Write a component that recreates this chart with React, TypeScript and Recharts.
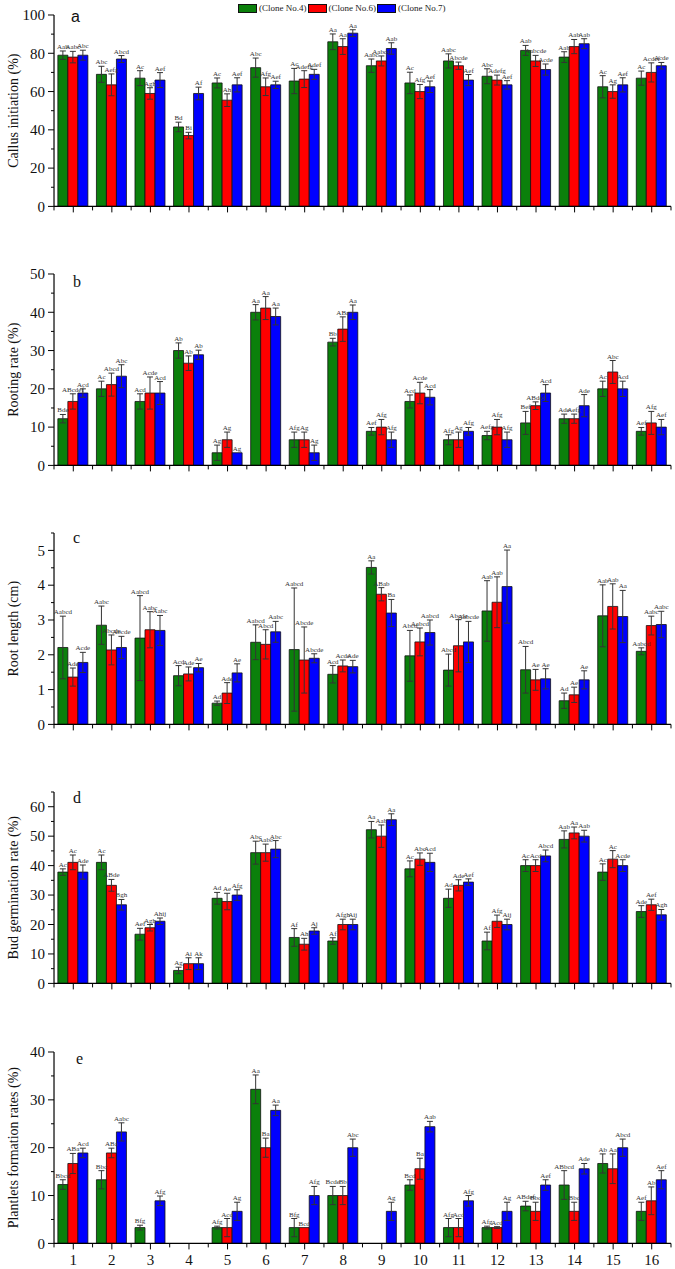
import React from "react";
import { BarChart, Bar, XAxis, YAxis, ErrorBar, LabelList } from "recharts";

const groups = ["1", "2", "3", "4", "5", "6", "7", "8", "9", "10", "11", "12", "13", "14", "15", "16"];
const cloneNames = ["(Clone No.4)", "(Clone No.6)", "(Clone No.7)"];
const cloneColors = ["#0b800b", "#ff0000", "#0000ff"];

// a - callus initiation (%)
const callus4 = [79, 69, 67, 41.5, 64.5, 72.5, 65.5, 86, 73.5, 64.5, 76, 68, 81.5, 78, 62.5, 67];
const callus6 = [78, 63.5, 59, 37, 55.5, 62.5, 66.5, 83.5, 76, 60, 73.5, 66, 76, 83.5, 60, 70];
const callus7 = [79, 77, 66, 59, 63.5, 63.5, 69, 90.5, 82.5, 62.5, 66, 63.5, 71.5, 85, 63.5, 73.5];
const callusErr4 = [2.2, 4.2, 3.9, 2.5, 2.6, 5, 6.6, 4.1, 3.5, 5.6, 3.7, 3.9, 2.6, 2.8, 5.8, 3.7];
const callusErr6 = [3, 5.7, 3, 1.7, 3.3, 4.6, 4.4, 4.1, 2.6, 3.7, 1.9, 2.6, 2.9, 3.7, 3.5, 5];
const callusErr7 = [2.6, 1.8, 3.9, 3.3, 3.7, 1.9, 2.6, 1.8, 3, 3, 2.9, 2.2, 2.9, 2.6, 3.7, 1.7];
const callusLab4 = ["Aab", "Abc", "Ac", "Bd", "Ac", "Abc", "Ac", "Aa", "Aabc", "Ac", "Aabc", "Abc", "Aab", "Aab", "Ac", "Ac"];
const callusLab6 = ["Aabc", "Aefg", "Agh", "Bi", "Ah", "Afg", "Adefg", "Aa", "Aabcd", "Afg", "Abcde", "Adefg", "Aabcde", "Aab", "Ag", "Acdef"];
const callusLab7 = ["Abc", "Abcd", "Aef", "Af", "Aef", "Aef", "Adef", "Aa", "Aab", "Aef", "Aef", "Aef", "Acde", "Aab", "Aef", "Acde"];
const callusTicks = [0, 10, 20, 30, 40, 50, 60, 70, 80, 90, 100];

// b - rooting rate (%)
const root4 = [12.2, 20, 16.7, 30, 3.3, 40, 6.7, 32.2, 8.9, 16.7, 6.7, 7.8, 11.1, 12.2, 20, 8.9];
const root6 = [16.7, 21.1, 18.9, 26.7, 6.7, 41.1, 6.7, 35.6, 10, 18.9, 6.7, 10, 15.6, 12.2, 24.4, 11.1];
const root7 = [18.9, 23.3, 18.9, 28.9, 3.3, 38.9, 3.3, 40, 6.7, 17.8, 8.9, 6.7, 18.9, 15.6, 20, 10];
const rootErr4 = [1.1, 2, 2, 2, 2, 2, 2, 1, 1, 1.7, 1.3, 1.1, 3, 1.2, 2, 1];
const rootErr6 = [2, 3, 4.2, 1.9, 2, 3, 2, 3.2, 2, 2.8, 2, 2, 1, 1.2, 3, 3];
const rootErr7 = [1.1, 3, 3, 1.2, 0, 2.2, 2, 1.9, 2, 2, 1, 2, 2.2, 2.9, 2, 2];
const rootLab4 = ["Bde", "Ac", "Acd", "Ab", "Ag", "Aa", "Afg", "Bb", "Aef", "Acd", "Afg", "Aefg", "Bef", "Ade", "Ac", "Aef"];
const rootLab6 = ["ABcdef", "Abcd", "Acde", "Ab", "Ag", "Aa", "Ag", "ABa", "Afg", "Acde", "Ag", "Afg", "ABdef", "Aefg", "Abc", "Afg"];
const rootLab7 = ["Acd", "Abc", "Acd", "Ab", "Ag", "Aa", "Ag", "Aa", "Afg", "Acd", "Afg", "Afg", "Acd", "Ade", "Acd", "Aef"];
const rootTicks = [0, 5, 10, 15, 20, 25, 30, 35, 40, 45, 50];

// c - root length (cm)
const len4 = [2.21, 2.85, 2.48, 1.4, 0.61, 2.36, 2.15, 1.44, 4.51, 1.97, 1.56, 3.26, 1.57, 0.68, 3.12, 2.1];
const len6 = [1.36, 2.14, 2.72, 1.45, 0.9, 2.3, 1.85, 1.68, 3.74, 2.37, 2.26, 3.51, 1.28, 0.85, 3.39, 2.84];
const len7 = [1.78, 2.21, 2.7, 1.63, 1.48, 2.66, 1.9, 1.66, 3.2, 2.64, 2.37, 3.96, 1.31, 1.28, 3.1, 2.87];
const lenErr4 = [0.9, 0.55, 1.22, 0.29, 0.06, 0.5, 1.77, 0.25, 0.19, 0.73, 0.46, 0.87, 0.67, 0.22, 0.89, 0.1];
const lenErr6 = [0.26, 0.43, 0.52, 0.2, 0.3, 0.42, 0.95, 0.17, 0.19, 0.4, 0.75, 0.73, 0.3, 0.22, 0.65, 0.27];
const lenErr7 = [0.29, 0.32, 0.43, 0.12, 0.26, 0.3, 0.13, 0.18, 0.39, 0.36, 0.59, 1.05, 0.29, 0.26, 0.75, 0.38];
const lenLab4 = ["Aabcd", "Aabc", "Aabcd", "Acd", "Ad", "Aabcd", "Aabcd", "Acd", "Aa", "Abcd", "Abcd", "Aab", "Abcd", "Ad", "Aab", "Aabcd"];
const lenLab6 = ["Ade", "Abcde", "Aabc", "Ade", "Ade", "Abcd", "Abcde", "Acde", "ABab", "Aabcd", "Abcde", "Aab", "Ae", "Ae", "Aab", "Aabc"];
const lenLab7 = ["Acde", "Abcde", "Aabc", "Ae", "Ae", "Aabc", "Abcde", "Ade", "Ba", "Aabcd", "Aabcde", "Aa", "Ae", "Ae", "Aa", "Aabc"];
const lenTicks = [0, 0.5, 1, 1.5, 2, 2.5, 3, 3.5, 4, 4.5, 5, 5.5];

// d - bud germination rate (%)
const bud4 = [37.8, 41.1, 16.7, 4.4, 28.9, 44.4, 15.6, 14.4, 52.2, 38.9, 28.9, 14.4, 40, 48.9, 37.8, 24.4];
const bud6 = [41.1, 33.3, 18.9, 6.7, 27.8, 44.4, 13.3, 20, 50, 42.2, 33.3, 21.1, 40, 51.1, 42.2, 26.7];
const bud7 = [37.8, 26.7, 21.1, 6.7, 30, 45.6, 17.8, 20, 55.6, 41.1, 34.4, 20, 43.3, 50, 40, 23.3];
const budErr4 = [1.1, 2.5, 2, 1.1, 2, 3.9, 3, 1.1, 2.8, 2.7, 3.1, 3, 2, 2.9, 2.8, 2];
const budErr6 = [2.5, 2, 1.1, 2, 2.8, 2.9, 2, 1.8, 3.8, 2.1, 1.9, 2.1, 2, 2, 2.9, 1.9];
const budErr7 = [2.4, 1.8, 1.1, 2, 1.8, 2.9, 1.1, 1.8, 2, 3.1, 1.1, 1.8, 2, 2, 2, 1.8];
const budLab4 = ["Ac", "Ac", "Aef", "Ag", "Ad", "Abc", "Af", "Af", "Aa", "Ac", "Ad", "Af", "Ac", "Aab", "Ac", "Ade"];
const budLab6 = ["Ac", "ABde", "Agh", "Ai", "Ae", "Aabc", "Ah", "Afgh", "Aab", "Abc", "Ade", "Afg", "Acd", "Aa", "Ac", "Aef"];
const budLab7 = ["Ade", "Bgh", "Ahij", "Ak", "Afg", "Abc", "Aj", "Aij", "Aa", "Acd", "Aef", "Aij", "Abcd", "Aab", "Acde", "Agh"];
const budTicks = [0, 5, 10, 15, 20, 25, 30, 35, 40, 45, 50, 55, 60, 65];

// e - plantlets formation rates (%)
const plant4 = [12.3, 13.3, 3.3, 0, 3.3, 32.2, 3.3, 10, 0, 12.2, 3.3, 3.3, 7.8, 12.2, 16.7, 6.7];
const plant6 = [16.7, 18.9, 0, 0, 3.3, 20, 3.3, 10, 0, 15.6, 3.3, 3.3, 6.7, 6.7, 15.6, 8.9];
const plant7 = [18.9, 23.3, 8.9, 0, 6.7, 27.8, 10, 20, 6.7, 24.4, 8.9, 6.7, 12.2, 15.6, 20, 13.3];
const plantErr4 = [1, 1.9, 0.5, null, 0.3, 3, 1.9, 1.9, null, 1.1, 1.9, 0.3, 1, 3, 2, 1.9];
const plantErr6 = [2.1, 1, null, null, 1.9, 2, 0, 1.9, null, 2.2, 1.9, 0.2, 1.9, 1.9, 3.1, 2.9];
const plantErr7 = [1, 1.9, 1, null, 1.9, 1.1, 1.9, 1.8, 1.9, 1.1, 1.1, 1.9, 1.1, 1.1, 1.8, 1.9];
const plantLab4 = ["Bbcd", "Bbc", "Bfg", "", "Afg", "Aa", "Bfg", "Bcde", "", "Bcd", "Afg", "Afg", "ABdef", "ABbcd", "Ab", "Aef"];
const plantLab6 = ["ABa", "ABa", "", "", "Acd", "Ba", "Bcd", "Bb", "", "Ba", "Acd", "Acd", "Bbc", "Bbc", "Aa", "Ab"];
const plantLab7 = ["Acd", "Aabc", "Afg", "", "Ag", "Aa", "Afg", "Abc", "Ag", "Aab", "Afg", "Ag", "Aef", "Ade", "Abcd", "Aef"];
const plantTicks = [0, 5, 10, 15, 20, 25, 30, 35, 40];

const SERIF = '"Liberation Serif", "Times New Roman", serif';
const SANS = '"Liberation Sans", Arial, sans-serif';
const CHART_W = 675;
const AXIS_W = 54;
const RIGHT = 4;
const TOP_M = 30;
const PLOT_H = 191.4;
const XAX_H = 30;
const CHART_H = TOP_M + PLOT_H + XAX_H;
const BAND = (CHART_W - AXIS_W - RIGHT) / groups.length;

const panels = [
  { letter: "a", font: SANS, yLabel: "Callus initiation (%)", max: 100, step: 20, ticks: callusTicks, vals: [callus4, callus6, callus7], errs: [callusErr4, callusErr6, callusErr7], labs: [callusLab4, callusLab6, callusLab7], plotTop: 15.3, lx: 71, ly: 7 },
  { letter: "b", font: SERIF, yLabel: "Rooting rate (%)", max: 50, step: 10, ticks: rootTicks, vals: [root4, root6, root7], errs: [rootErr4, rootErr6, rootErr7], labs: [rootLab4, rootLab6, rootLab7], plotTop: 274.3, lx: 73, ly: 13 },
  { letter: "c", font: SERIF, yLabel: "Root length (cm)", max: 5.5, step: 1, ticks: lenTicks, vals: [len4, len6, len7], errs: [lenErr4, lenErr6, lenErr7], labs: [lenLab4, lenLab6, lenLab7], plotTop: 533, lx: 73, ly: 10 },
  { letter: "d", font: SERIF, yLabel: "Bud germination rate (%)", max: 65, step: 10, ticks: budTicks, vals: [bud4, bud6, bud7], errs: [budErr4, budErr6, budErr7], labs: [budLab4, budLab6, budLab7], plotTop: 792.3, lx: 73, ly: 11 },
  { letter: "e", font: SERIF, yLabel: "Plantlets formation rates (%)", max: 40, step: 10, ticks: plantTicks, vals: [plant4, plant6, plant7], errs: [plantErr4, plantErr6, plantErr7], labs: [plantLab4, plantLab6, plantLab7], plotTop: 1052, lx: 76, ly: 12 },
];

const keys = ["4", "6", "7"];

function YTick(props: any) {
  const { x, y, payload, step } = props;
  const v = payload.value;
  const major = Math.abs(v / step - Math.round(v / step)) < 1e-6;
  const ax = x + 8;
  return (
    <g>
      <line x1={ax - (major ? 6 : 3)} x2={ax} y1={y} y2={y} stroke="#000" strokeWidth={1} />
      {major && (
        <text x={x - 1} y={y} dy="0.35em" textAnchor="end" fontSize={15} fontFamily={SERIF} fill="#111">
          {v}
        </text>
      )}
    </g>
  );
}

function XTick(props: any) {
  const { x, y, payload, index, showLabel } = props;
  const ay = y - 8;
  const half = BAND / 2;
  return (
    <g>
      <line x1={x} x2={x} y1={ay} y2={ay + 6} stroke="#000" strokeWidth={1} />
      <line x1={x - half} x2={x - half} y1={ay} y2={ay + 4} stroke="#000" strokeWidth={1} />
      {index === groups.length - 1 && <line x1={x + half} x2={x + half} y1={ay} y2={ay + 4} stroke="#000" strokeWidth={1} />}
      {showLabel && (
        <text x={x} y={y + 3} dy="0.71em" textAnchor="middle" fontSize={15} fontFamily={SERIF} fill="#111">
          {payload.value}
        </text>
      )}
    </g>
  );
}

// the LabelList value is the whole row, so the tag does not depend on the label index
function BarTag(props: any) {
  const { x, y, width, value, k, ppu } = props;
  const row = value;
  if (!row || typeof row !== "object") return null;
  const text = row["l" + k];
  if (!text) return null;
  const err = row["e" + k] || 0;
  return (
    <text x={x + width / 2} y={y - err * ppu - 2} textAnchor="middle" fontSize={7} fontFamily={SERIF} fill="#333">
      {text}
    </text>
  );
}

function CloneLegend() {
  return (
    <div style={{ position: "absolute", left: 238, top: 3, display: "flex", alignItems: "center", fontFamily: SERIF, fontSize: 9, color: "#222" }}>
      {cloneNames.map((n, i) => (
        <div key={n} style={{ display: "flex", alignItems: "center", marginRight: 1 }}>
          <div style={{ width: 19, height: 9, boxSizing: "border-box", border: "1px solid #111", background: cloneColors[i], marginRight: 2 }} />
          <span style={{ whiteSpace: "nowrap" }}>{n}</span>
        </div>
      ))}
    </div>
  );
}

function Panel({ p, last }: { p: any; last: boolean }) {
  const rows = groups.map((g, i) => ({
    g,
    c4: p.vals[0][i], c6: p.vals[1][i], c7: p.vals[2][i],
    e4: p.errs[0][i], e6: p.errs[1][i], e7: p.errs[2][i],
    l4: p.labs[0][i], l6: p.labs[1][i], l7: p.labs[2][i],
  }));
  const ppu = PLOT_H / p.max;
  const midY = TOP_M + PLOT_H / 2;
  return (
    <div style={{ position: "absolute", left: 0, top: p.plotTop - TOP_M, width: CHART_W, height: CHART_H }}>
      <BarChart width={CHART_W} height={CHART_H} data={rows} margin={{ top: TOP_M, right: RIGHT, bottom: 0, left: 0 }} barCategoryGap="10%" barGap={0}>
        <XAxis dataKey="g" height={XAX_H} interval={0} axisLine={{ stroke: "#000", strokeWidth: 1.2 }} tickLine={false} tickSize={6} tickMargin={2} tick={<XTick showLabel={last} />} />
        <YAxis width={AXIS_W} domain={[0, p.max]} ticks={p.ticks} interval={0} allowDataOverflow axisLine={{ stroke: "#000", strokeWidth: 1.2 }} tickLine={false} tickSize={6} tickMargin={2} tick={<YTick step={p.step} />} />
        {keys.map((k, j) => (
          <Bar key={k} dataKey={"c" + k} name={cloneNames[j]} fill={cloneColors[j]} stroke="#111" strokeWidth={0.8} isAnimationActive={false}>
            <ErrorBar dataKey={"e" + k} width={3} stroke="#333" strokeWidth={1} direction="y" />
            <LabelList dataKey={(row: any) => row} content={(lp: any) => <BarTag {...lp} k={k} ppu={ppu} />} />
          </Bar>
        ))}
      </BarChart>
      <svg width={CHART_W} height={CHART_H} style={{ position: "absolute", left: 0, top: 0, pointerEvents: "none" }}>
        <text x={14} y={midY} transform={`rotate(-90 14 ${midY})`} textAnchor="middle" dominantBaseline="central" fontSize={14} fontFamily={SERIF} fill="#111">
          {p.yLabel}
        </text>
        <text x={p.lx} y={TOP_M + p.ly} fontSize={16} fontFamily={p.font} fill="#111">
          {p.letter}
        </text>
      </svg>
    </div>
  );
}

export default function App() {
  return (
    <div style={{ position: "absolute", left: 0, top: 0, width: 675, height: 1269, background: "#fff", overflow: "hidden" }}>
      <CloneLegend />
      {panels.map((p, i) => (
        <Panel key={p.letter} p={p} last={i === panels.length - 1} />
      ))}
    </div>
  );
}
